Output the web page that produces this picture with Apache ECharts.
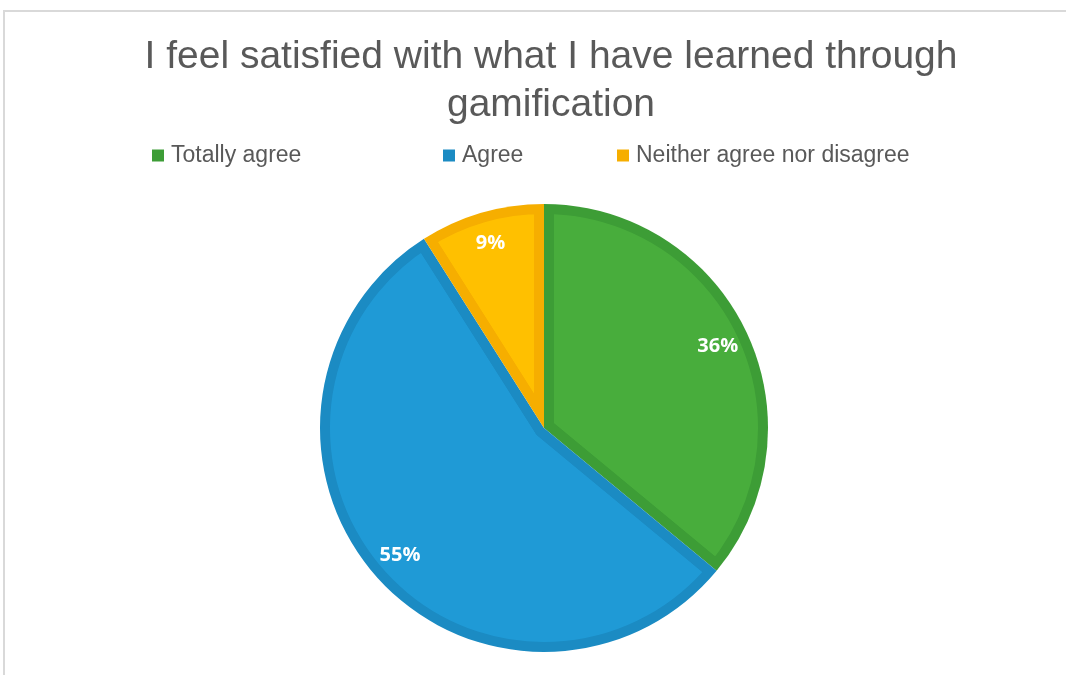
<!DOCTYPE html>
<html>
<head>
<meta charset="utf-8">
<script src="https://cdn.jsdelivr.net/npm/echarts@6/dist/echarts.min.js"></script>
<style>
  html, body { margin: 0; padding: 0; background: #ffffff; }
  #chart { width: 1066px; height: 675px; }
</style>
</head>
<body>
<div id="chart"></div>
<script>
// Survey answers: "I feel satisfied with what I have learned through gamification"
const categories = ['Totally agree', 'Agree', 'Neither agree nor disagree'];
const shares = [36, 55, 9];                                  // percent of respondents
const fillColors = ['#48AD3C', '#1F9AD6', '#FFC000'];        // slice body
const edgeColors = ['#3D9D36', '#1B8BC3', '#F6AE00'];        // darker inner rim

const chartTitle = 'I feel satisfied with what I have learned through\ngamification';

const pieCenter = [544, 428];
const pieRadius = 224;
const rimWidth = 10;

const sliceData = (colors) => categories.map((name, i) => ({
  name: name,
  value: shares[i],
  itemStyle: { color: colors[i] }
}));

const legendText = { color: '#595959', fontSize: 23, fontFamily: 'Liberation Sans, Arial, sans-serif', padding: [0, 0, 0, 2] };
const legendLefts = [152, 443, 617];

const chart = echarts.init(document.getElementById('chart'), null, { renderer: 'canvas' });

chart.setOption({
  animation: false,
  title: {
    text: chartTitle,
    left: 551,
    top: 33,
    textAlign: 'center',
    padding: 0,
    textStyle: {
      color: '#595959',
      fontSize: 39,
      fontWeight: 'normal',
      fontFamily: 'Liberation Sans, Arial, sans-serif',
      lineHeight: 48
    }
  },
  legend: categories.map((name, i) => ({
    data: [name],
    left: legendLefts[i],
    top: 144,
    padding: 0,
    itemWidth: 12,
    itemHeight: 12,
    itemGap: 0,
    icon: 'rect',
    selectedMode: false,
    textStyle: legendText
  })),
  graphic: [{
    type: 'polyline',
    silent: true,
    shape: { points: [[4, 675], [4, 11], [1066, 11]] },
    style: { stroke: '#d9d9d9', lineWidth: 2, fill: null }
  }],
  series: [
    // darker base disc: shows through as the rim of every slice
    {
      type: 'pie',
      zlevel: 0,
      silent: true,
      center: pieCenter,
      radius: pieRadius,
      startAngle: 90,
      clockwise: true,
      label: { show: false },
      labelLine: { show: false },
      emphasis: { disabled: true },
      data: sliceData(edgeColors)
    },
    // lighter slice bodies
    {
      type: 'pie',
      zlevel: 1,
      z: 1,
      silent: true,
      center: pieCenter,
      radius: pieRadius,
      startAngle: 90,
      clockwise: true,
      label: { show: false },
      labelLine: { show: false },
      emphasis: { disabled: true },
      data: sliceData(fillColors)
    },
    // cut the rim band out of the bodies so the darker disc shows along every edge
    {
      type: 'pie',
      zlevel: 1,
      z: 5,
      silent: true,
      blendMode: 'destination-out',
      center: pieCenter,
      radius: pieRadius,
      startAngle: 90,
      clockwise: true,
      label: { show: false },
      labelLine: { show: false },
      emphasis: { disabled: true },
      itemStyle: { color: 'rgba(0,0,0,0)', borderColor: '#000', borderWidth: rimWidth * 2, borderJoin: 'round' },
      data: categories.map((name, i) => ({ name: name, value: shares[i] }))
    },
    // percentage labels
    {
      type: 'pie',
      zlevel: 2,
      silent: true,
      center: pieCenter,
      radius: [0, 378],
      startAngle: 90,
      clockwise: true,
      itemStyle: { color: 'rgba(0,0,0,0)' },
      label: {
        show: true,
        position: 'inside',
        formatter: '{d}%',
        color: '#ffffff',
        fontSize: 20,
        fontWeight: 'bold',
        fontFamily: 'Open Sans, sans-serif'
      },
      labelLine: { show: false },
      emphasis: { disabled: true },
      data: categories.map((name, i) => ({ name: name, value: shares[i] }))
    }
  ]
});
</script>
</body>
</html>
